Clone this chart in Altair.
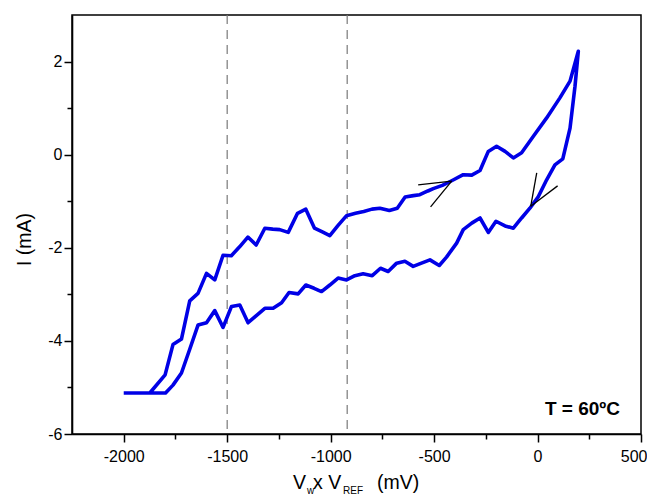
import altair as alt
import pandas as pd

# forward (anodic) sweep
fwd_v = [-2000, -1874, -1800, -1762, -1721, -1681, -1641, -1600, -1560, -1520, -1480, -1440,
         -1400, -1360, -1318, -1280, -1246, -1205, -1160, -1120, -1078, -1040, -1004, -964,
         -923, -880, -840, -800, -762, -716, -678, -640, -600, -569, -530, -504, -460, -415,
         -359, -318, -278, -238, -198, -157, -117, -77, -21, 44, 108, 157, 197]
fwd_i = [-5.12, -5.12, -4.73, -4.08, -3.96, -3.14, -2.98, -2.55, -2.69, -2.16, -2.17, -1.98,
         -1.77, -1.94, -1.58, -1.60, -1.61, -1.67, -1.26, -1.17, -1.58, -1.66, -1.74, -1.52,
         -1.31, -1.26, -1.22, -1.17, -1.15, -1.20, -1.15, -0.91, -0.88, -0.86, -0.78, -0.73,
         -0.66, -0.56, -0.43, -0.44, -0.34, 0.07, 0.18, 0.07, -0.07, 0.04, 0.39, 0.79, 1.22,
         1.58, 2.22]

# reverse (cathodic) sweep
rev_v = [197, 181, 157, 122, 84, 44, 4, -37, -77, -117, -157, -201, -238, -278, -318, -359,
         -391, -440, -475, -520, -561, -601, -641, -681, -722, -759, -799, -843, -883, -923,
         -964, -1004, -1044, -1080, -1120, -1157, -1201, -1237, -1278, -1318, -1399, -1439,
         -1479, -1520, -1560, -1600, -1641, -1681, -1721, -1762, -1798, -2000]
rev_i = [2.22, 1.47, 0.57, -0.09, -0.22, -0.54, -0.90, -1.15, -1.36, -1.58, -1.53, -1.43,
         -1.67, -1.36, -1.47, -1.61, -1.90, -2.20, -2.38, -2.26, -2.33, -2.40, -2.29, -2.33,
         -2.51, -2.44, -2.60, -2.56, -2.60, -2.69, -2.65, -2.80, -2.94, -2.87, -2.80, -2.99,
         -2.96, -3.18, -3.30, -3.30, -3.61, -3.23, -3.26, -3.71, -3.35, -3.61, -3.66, -4.18,
         -4.69, -4.95, -5.12, -5.12]

# dashed reference lines
dashed_v = [-1500, -920]

# arrow heads (tangent strokes)
arrow_v1 = [-577, -517, -4, 97]
arrow_i1 = [-0.65, -1.12, -0.39, -0.67]
arrow_v2 = [-415, -415, -33, -33]
arrow_i2 = [-0.57, -0.57, -1.11, -1.11]

x_ticks = list(range(-2000, 501, 250))
y_ticks = [-6, -5, -4, -3, -2, -1, 0, 1, 2]

all_v = fwd_v + rev_v
all_i = fwd_i + rev_i
cv = pd.DataFrame({"order": list(range(len(all_v))), "V": all_v, "I": all_i})
dash_df = pd.DataFrame({"V": dashed_v})
arr_df = pd.DataFrame({"V": arrow_v1, "I": arrow_i1, "V2": arrow_v2, "I2": arrow_i2})
one = pd.DataFrame({"k": [0]})

FONT = "Liberation Sans"

xs = alt.Scale(domain=[-2250, 500], nice=False, zero=False)
ys = alt.Scale(domain=[-6, 3], nice=False, zero=False)

xaxis = alt.Axis(
    values=x_ticks,
    labelExpr="datum.value % 500 === 0 ? '' + datum.value : ''",
    tickSize={"condition": {"test": "datum.value % 500 === 0", "value": 8}, "value": 5},
    title=None, grid=False, labelPadding=6, labelFlush=True, labelFlushOffset=6,
    labelOverlap=False,
)
yaxis = alt.Axis(
    values=y_ticks,
    labelExpr="datum.value % 2 === 0 ? '' + datum.value : ''",
    tickSize={"condition": {"test": "datum.value % 2 === 0", "value": 8}, "value": 5},
    title=None, grid=False, labelPadding=2, labelFlush=False, labelOverlap=False,
)

X = alt.X("V:Q", scale=xs, axis=xaxis)
Y = alt.Y("I:Q", scale=ys, axis=yaxis)

line = alt.Chart(cv).mark_line(color="#0000e6", strokeWidth=3.6, strokeJoin="round").encode(
    x=X, y=Y, order="order:Q"
)
dashes = alt.Chart(dash_df).mark_rule(color="#7a7a7a", strokeWidth=1.2, strokeDash=[9, 6]).encode(x=X)
arrows = alt.Chart(arr_df).mark_rule(color="black", strokeWidth=1.3).encode(
    x=X, y=Y, x2="V2:Q", y2="I2:Q"
)


def txt(s, x, y, size, weight="normal", align="left", angle=0):
    return alt.Chart(one).mark_text(
        text=s, font=FONT, fontSize=size, fontWeight=weight, align=align,
        baseline="alphabetic", angle=angle, color="black"
    ).encode(x=alt.value(x), y=alt.value(y))


temp = txt("T = 60ºC", 548, 400, 19, weight="bold", align="right")
t1 = txt("V", 221, 474, 19.5)
t2 = txt("w", 235, 479, 10)
t3 = txt("x V", 241, 474, 19.5)
t4 = txt("REF", 271, 479, 10)
t5 = txt("(mV)", 305, 474, 19.5)
ty = txt("I (mA)", -41, 224.5, 19.5, align="center", angle=270)

chart = alt.layer(dashes, line, arrows, temp, t1, t2, t3, t4, t5, ty).properties(
    width=569, height=419,
    padding={"left": 64, "top": 7, "right": 6, "bottom": 62},
    autosize=alt.AutoSizeParams(type="none"),
).configure_view(stroke="black", strokeWidth=1.5).configure_axis(
    domainColor="black", domainWidth=1.6, tickColor="black", tickWidth=1.5,
    labelFont=FONT, labelFontSize=16, labelColor="black",
)

chart.save("out.html", embed_options={"renderer": "svg", "actions": False})
